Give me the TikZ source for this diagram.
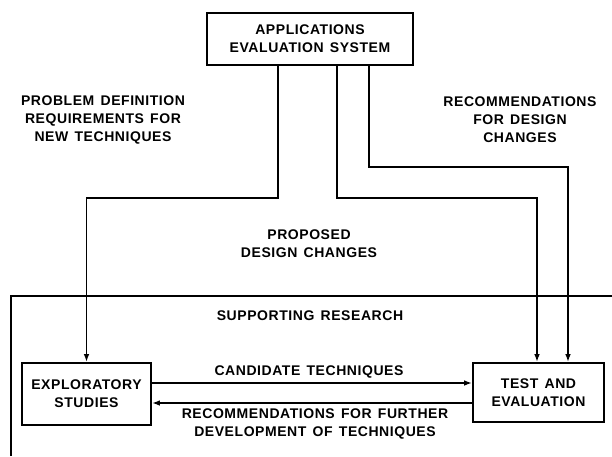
\documentclass[tikz,border=0pt]{standalone}
\usepackage{fontspec}
\setmainfont{Liberation Sans}[LetterSpace=4,WordSpace=1.4]
\usetikzlibrary{arrows.meta}
\begin{document}
\begin{tikzpicture}[x=1pt,y=-1pt,
  lbl/.style={font=\bfseries\fontsize{14}{18}\selectfont, align=center, inner sep=0pt},
  boxnode/.style={draw, line width=1.6pt, lbl, inner sep=0pt},
  conn/.style={line width=1.6pt},
  arr/.style={conn, -{Latex[length=8pt,width=5.5pt]}}]
\useasboundingbox (0,0) rectangle (612,456);

% boxes
\node[boxnode, minimum width=206pt, minimum height=52pt] (aes) at (310,39) {APPLICATIONS\\EVALUATION SYSTEM};
\node[boxnode, minimum width=129pt, minimum height=62pt] (exp) at (86.5,394) {EXPLORATORY\\STUDIES};
\node[boxnode, minimum width=131pt, minimum height=59pt] (test) at (538.5,392.5) {TEST AND\\EVALUATION};

% bend points
\coordinate (b1) at (278,198);
\coordinate (b2) at (337,198);
\coordinate (b2e) at (537,198);
\coordinate (b3) at (369,167);
\coordinate (b3e) at (568,167);

% connectors from the top box
\draw[arr] (b1 |- aes.south) -- (b1) -| (exp);
\draw[arr] (b2 |- aes.south) -- (b2) -- (b2e) -- (b2e |- test.north);
\draw[arr] (b3 |- aes.south) -- (b3) -- (b3e) -- (b3e |- test.north);

% supporting research boundary
\coordinate (sr1) at (11,456);
\coordinate (sr2) at (11,296);
\coordinate (sr3) at (612,296);
\draw[conn] (sr1) -- (sr2) -- (sr3);

% horizontal arrows
\coordinate (ya) at (0,383);
\coordinate (yb) at (0,403);
\draw[arr] (exp.east |- ya) -- (test.west |- ya);
\draw[arr] (test.west |- yb) -- (exp.east |- yb);

% labels
\node[lbl] (l1) at (103,120) {PROBLEM DEFINITION\\REQUIREMENTS FOR\\NEW TECHNIQUES};
\node[lbl] (l2) at (520,120) {RECOMMENDATIONS\\FOR DESIGN\\CHANGES};
\node[lbl] (l3) at (309,244) {PROPOSED\\DESIGN CHANGES};
\node[lbl] (l4) at (310,316) {SUPPORTING RESEARCH};
\node[lbl] (l5) at (309,372) {CANDIDATE TECHNIQUES};
\node[lbl] (l6) at (315,424) {RECOMMENDATIONS FOR FURTHER\\DEVELOPMENT OF TECHNIQUES};
\end{tikzpicture}
\end{document}
